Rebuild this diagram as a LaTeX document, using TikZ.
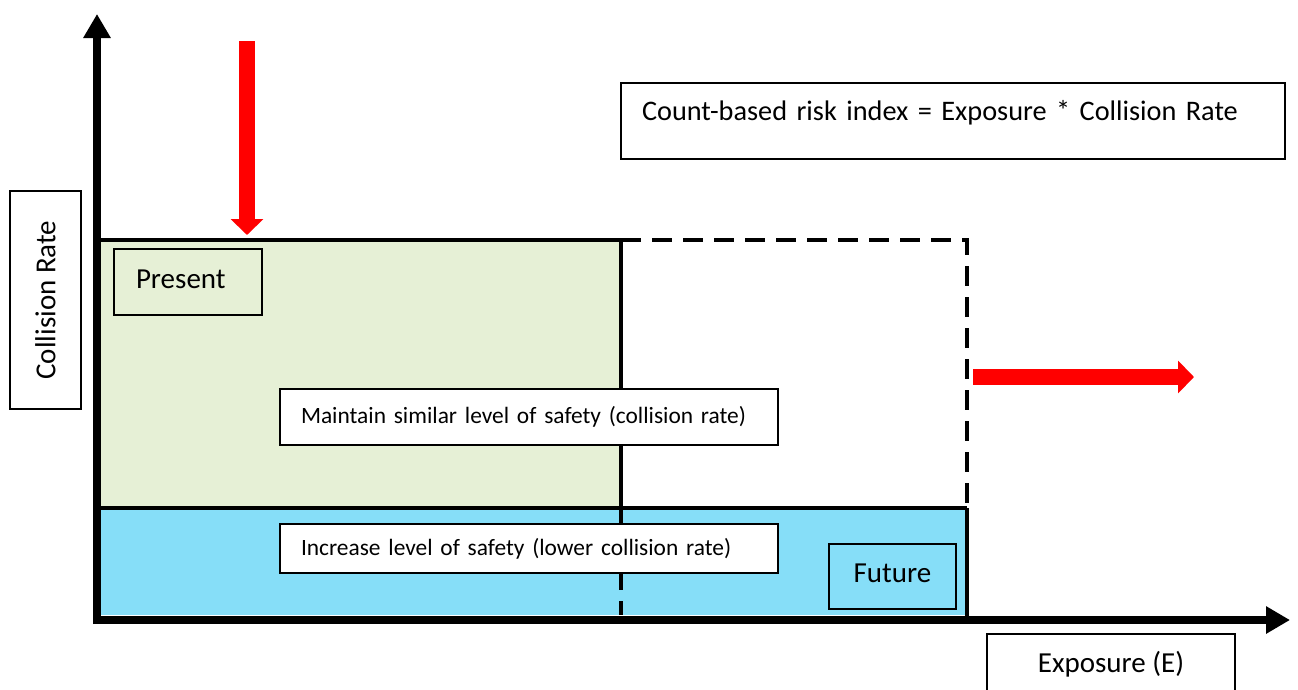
\documentclass[tikz,border=0pt]{standalone}
\usepackage{fontspec}
\setmainfont{Carlito}
\usetikzlibrary{arrows.meta}
\definecolor{presentgreen}{HTML}{E6F0D6}
\definecolor{futureblue}{HTML}{86DEF8}
\tikzset{myaxis/.style={line width=8pt,-{Triangle[length=24pt,width=26pt]}}}
\tikzset{myedge/.style={line width=4pt}}
\tikzset{mydash/.style={line width=4pt,dash pattern=on 20pt off 11pt}}
\tikzset{myshift/.style={red,line width=16pt,-{Triangle[length=16pt,width=32pt]}}}
\tikzset{mybox/.style={draw,line width=2pt,anchor=north west,inner ysep=0pt}}
\tikzset{mynode/.style={font=\fontsize{29}{34}\selectfont}}
\tikzset{mysmall/.style={font=\fontsize{23.4}{28}\selectfont}}

\begin{document}
\begin{tikzpicture}[x=1pt,y=-1pt]
	\useasboundingbox (0,0) rectangle (1298,689);

	\fill[presentgreen] (100,240) rectangle (621,508);
	\fill[futureblue] (100,508) rectangle (967,615);

	\draw[myedge] (100,240) -- (621,240) (621,240) -- (621,508);
	\draw[myedge] (100,508) -- (967,508) (967,508) -- (967,617);
	\draw[mydash] (621,240) -- (967,240) -- (967,508); % future boundary
	\draw[mydash] (621,508) -- (621,615);

	\draw[myshift] (247,41) -- (247,235);
	\draw[myshift] (973,377) -- (1194,377);

	\node[mybox,mynode,font=\fontsize{28.3}{34}\selectfont,text width=622pt,inner xsep=21pt,align=left,text depth=22pt,minimum height=76pt] (riskindex) at (620,82) {Count-based risk index = Exposure * Collision Rate};
	\node[mybox,mynode,fill=presentgreen,text width=104pt,inner xsep=22pt,align=left,text depth=6pt,minimum height=66pt] (present) at (113,248) {Present};
	\node[mybox,mysmall,fill=white,text width=456pt,inner xsep=21pt,align=left,minimum height=56pt] (maintain) at (279,388) {Maintain similar level of safety (collision rate)};
	\node[mybox,mysmall,fill=white,text width=456pt,inner xsep=21pt,align=left,minimum height=49pt] (increase) at (279,523) {Increase level of safety (lower collision rate)};
	\node[mybox,mynode,fill=futureblue,inner xsep=0pt,text depth=6pt,minimum width=127pt,minimum height=65pt] (future) at (828,543) {Future};
	\node[mybox,mynode,inner xsep=0pt,minimum width=248pt,minimum height=60pt] (exposure) at (986,633) {Exposure (E)};
	\node[draw,line width=2pt,mynode,rotate=90,inner sep=0pt,minimum width=218pt,minimum height=71pt] (collisionrate) at (45.5,300) {Collision Rate};

	\draw[myaxis] (97,624) -- (97,14);
	\draw[myaxis] (93,620) -- (1290,620);
\end{tikzpicture}
\end{document}
